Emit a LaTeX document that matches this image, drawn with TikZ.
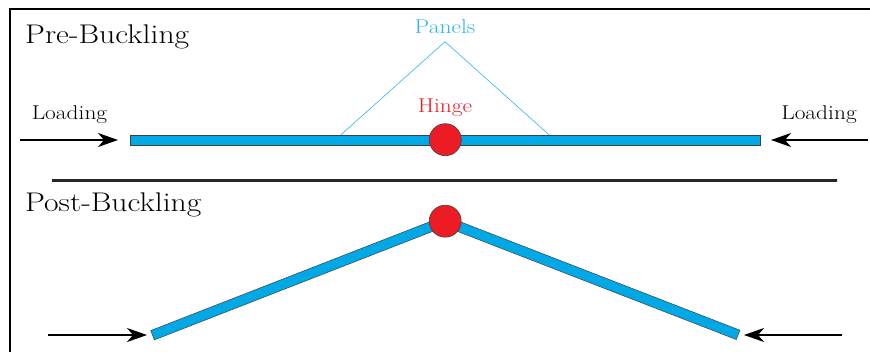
\documentclass[tikz,border=0pt]{standalone}
\usepackage{fontspec}
\usepackage{graphicx}
\usetikzlibrary{arrows.meta}
\definecolor{panelblue}{RGB}{0,169,230}
\definecolor{labelblue}{RGB}{41,182,238}
\definecolor{hingered}{RGB}{237,28,36}
\newcommand\widetext[1]{\scalebox{1.17}[1]{#1}}
\pgfdeclarehorizontalshading{sepshade}{100bp}{color(0bp)=(white); color(9bp)=(black!85); color(91bp)=(black!85); color(100bp)=(white)}
\tikzset{
  panel/.style={draw=black!75, line width=0.5pt, fill=panelblue, rectangle, minimum height=10pt, inner sep=0pt, outer sep=0pt},
  hinge/.style={draw=black!75, line width=0.6pt, fill=hingered, circle, minimum size=32pt, inner sep=0pt},
  load/.style={line width=1.3pt, -{Stealth[length=20pt, width=14pt, inset=6pt]}},
  title/.style={font=\fontsize{27}{32}\selectfont, anchor=base west, inner sep=0pt},
  lbl/.style={font=\fontsize{20}{24}\selectfont, anchor=base, inner sep=0pt},
  pointer/.style={labelblue, line width=0.6pt}
}
\begin{document}
\begin{tikzpicture}[x=1pt,y=1pt]
\useasboundingbox (0,0) rectangle (870,351);
% frame
\draw[line width=2pt] (9.5,-5) -- (9.5,342) -- (870,342);
% titles
\node[title] (pre) at (25,307.5) {\widetext{Pre-Buckling}};
\node[title] (post) at (25,139.3) {\widetext{Post-Buckling}};
% separator
\shade[shading=sepshade] (52,169.4) rectangle (837,171.2);
% pre-buckling
\node[panel, minimum width=630pt] (bar) at (445,211) {};
\node[lbl, labelblue] (panels) at (445,317.7) {\widetext{Panels}};
\coordinate (apex) at (445,309.3);
\coordinate (footl) at (340.7,216);
\coordinate (footr) at (549.3,216);
\draw[pointer] (footl) -- (apex) -- (footr);
\node[lbl, hingered] (hingelbl) at (445,238) {\widetext{Hinge}};
\node[hinge] (h1) at (445.3,211.3) {};
\node[lbl] (loadl) at (69.5,231) {\widetext{Loading}};
\node[lbl] (loadr) at (819,231) {\widetext{Loading}};
\coordinate (al0) at (20,211);
\coordinate (al1) at (118,211);
\coordinate (ar0) at (868,211);
\coordinate (ar1) at (771,211);
\draw[load] (al0) -- (al1);
\draw[load] (ar0) -- (ar1);
% post-buckling
\node[panel, minimum width=314pt, rotate=21.3] (pl) at (298.8,72.8) {};
\node[panel, minimum width=314pt, rotate=-21.2] (pr) at (591.7,72.9) {};
\node[hinge] (h2) at (445.2,129.8) {};
\coordinate (bl0) at (48,16);
\coordinate (bl1) at (147,16);
\coordinate (br0) at (842,16);
\coordinate (br1) at (744,16);
\draw[load] (bl0) -- (bl1);
\draw[load] (br0) -- (br1);
\end{tikzpicture}
\end{document}
